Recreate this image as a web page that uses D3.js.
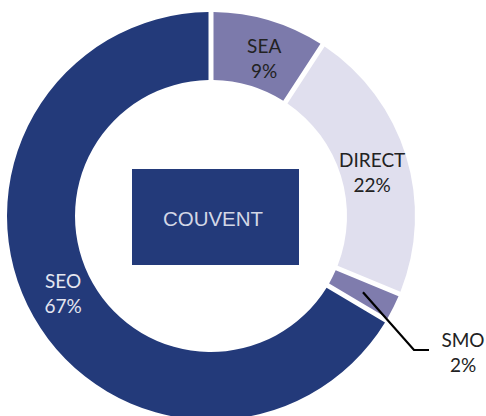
<!DOCTYPE html>
<html>
<head>
<meta charset="utf-8">
<script src="https://cdn.jsdelivr.net/npm/d3@7"></script>
<style>
html,body{margin:0;padding:0;background:#fff;}
svg{display:block;}
</style>
</head>
<body>
<svg id="chart" width="486" height="416"></svg>
<script>
const categories = ["SEA", "DIRECT", "SMO", "SEO"];
const values = [9, 22, 2, 67];
const colors = ["#7c7aab", "#e0dfee", "#7f7cad", "#233a7a"];
const labelColors = ["#222222", "#222222", "#222222", "#e4e6f0"];
const centerTitle = "COUVENT";

const svg = d3.select("#chart");
const cx = 211, cy = 216, rOuter = 204, rInner = 136;
const g = svg.append("g").attr("transform", `translate(${cx},${cy})`);

const data = categories.map((c, i) => ({cat: c, value: values[i], color: colors[i], lc: labelColors[i]}));

const pie = d3.pie().value(d => d.value).sort(null).padAngle(5 / Math.sqrt(rOuter*rOuter + rInner*rInner));
const arcs = pie(data);
const arc = d3.arc().innerRadius(rInner).outerRadius(rOuter);

g.selectAll("path.slice").data(arcs).enter().append("path")
  .attr("class", "slice")
  .attr("d", arc)
  .attr("fill", d => d.data.color);

// center box
g.append("rect").attr("x", 132 - cx).attr("y", 169 - cy).attr("width", 167).attr("height", 96)
  .attr("fill", "#233a7a");
g.append("text").attr("x", 213 - cx).attr("y", 218.5 - cy)
  .attr("text-anchor", "middle").attr("dominant-baseline", "central")
  .attr("font-family", "'Liberation Sans', Arial, sans-serif").attr("font-size", 20.5)
  .attr("fill", "#d3d7e6").text(centerTitle);

const fontFam = "Lato, 'Open Sans', sans-serif";
const labelR = 167;
const angleShift = 2 * Math.PI / 180;

arcs.forEach(d => {
  const pct = Math.round(d.data.value) + "%";
  let x, y;
  if (d.data.value < 5) {
    // outside label with leader line
    const mid = (d.startAngle + d.endAngle) / 2;
    const sx = 170 * Math.sin(mid), sy = -170 * Math.cos(mid);
    const ex = 414 - cx, ey = 350 - cy;
    g.append("polyline")
      .attr("points", `${sx},${sy} ${ex},${ey} ${ex + 15},${ey}`)
      .attr("fill", "none").attr("stroke", "#000").attr("stroke-width", 2.2);
    x = 463 - cx; y = 351.5 - cy;
  } else {
    const mid = (d.startAngle + d.endAngle) / 2 + angleShift;
    x = labelR * Math.sin(mid); y = -labelR * Math.cos(mid);
  }
  const t = g.append("text").attr("text-anchor", "middle")
    .attr("font-family", fontFam).attr("font-size", 19).attr("fill", d.data.lc);
  t.append("tspan").attr("x", x).attr("y", y - 12.5).attr("dominant-baseline", "central").text(d.data.cat);
  t.append("tspan").attr("x", x).attr("y", y + 12.5).attr("dominant-baseline", "central").text(pct);
});
</script>
</body>
</html>
